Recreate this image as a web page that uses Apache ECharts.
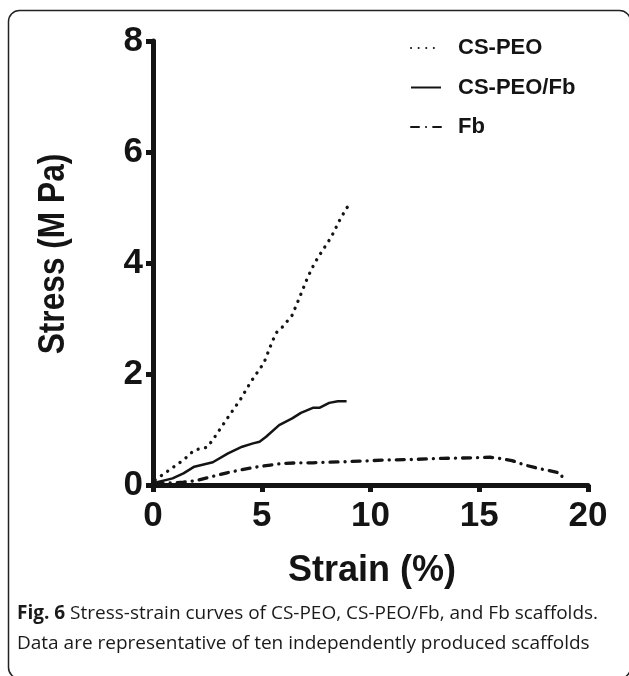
<!DOCTYPE html>
<html>
<head>
<meta charset="utf-8">
<title>Stress-strain curves</title>
<script src="https://cdn.jsdelivr.net/npm/echarts@6/dist/echarts.min.js"></script>
<style>
  html, body { margin: 0; padding: 0; background: #fff; }
  #main { width: 629px; height: 676px; }
</style>
</head>
<body>
<div id="main"></div>
<script type="text/javascript">
// data: strain (%) / stress (MPa)
var seriesNames = ['CS-PEO', 'CS-PEO/Fb', 'Fb'];
var xTicks = [0, 5, 10, 15, 20];
var yTicks = [0, 2, 4, 6, 8];

var csPeoStrain = [0.1, 1.4, 1.9, 2.5, 2.9, 3.45, 4.0, 4.5, 5.1, 5.5, 5.7, 5.96, 6.4, 6.75, 7.1, 7.43, 7.8, 8.2, 8.58, 8.9, 9.1];
var csPeoStress = [0.09, 0.45, 0.63, 0.68, 0.9, 1.22, 1.53, 1.86, 2.2, 2.6, 2.76, 2.85, 3.06, 3.39, 3.73, 4.0, 4.23, 4.47, 4.77, 4.99, 5.08];

var csPeoFbStrain = [0, 0.9, 1.4, 1.9, 2.75, 3.45, 4.1, 4.6, 4.9, 5.2, 5.8, 6.4, 6.8, 7.35, 7.65, 8.1, 8.5, 8.9];
var csPeoFbStress = [0.03, 0.12, 0.21, 0.33, 0.41, 0.57, 0.69, 0.75, 0.78, 0.87, 1.08, 1.2, 1.3, 1.39, 1.39, 1.48, 1.51, 1.51];

var fbStrain = [0.1, 1.4, 2.0, 2.7, 3.4, 4.0, 4.7, 5.4, 6.0, 6.75, 7.35, 8.0, 8.9, 9.5, 10.1, 10.7, 11.9, 13.3, 14.7, 15.5, 15.9, 16.5, 17.1, 17.7, 18.2, 18.75, 18.9];
var fbStress = [0.02, 0.05, 0.08, 0.15, 0.22, 0.27, 0.32, 0.36, 0.39, 0.4, 0.4, 0.41, 0.42, 0.43, 0.44, 0.45, 0.46, 0.48, 0.49, 0.5, 0.48, 0.44, 0.36, 0.3, 0.26, 0.21, 0.05];

function pairs(xs, ys) {
  var out = [];
  for (var i = 0; i < xs.length; i++) out.push([xs[i], ys[i]]);
  return out;
}

var ink = '#141414';
var boldFont = '"Liberation Sans", Arial, sans-serif';

var myChart = echarts.init(document.getElementById('main'));

var option = {
  backgroundColor: '#fff',
  animation: false,
  grid: { left: 153, right: 41, top: 41, bottom: 191 },
  legend: {
    orient: 'vertical',
    left: 405,
    top: 32,
    itemWidth: 30,
    itemHeight: 14,
    itemGap: 17.5,
    data: seriesNames,
    itemStyle: { opacity: 0 },
    textStyle: {
      color: ink, fontSize: 22, fontWeight: 'bold', fontFamily: boldFont,
      padding: [0, 0, 0, 12]
    }
  },
  xAxis: {
    type: 'value',
    min: xTicks[0], max: xTicks[xTicks.length - 1], interval: 5,
    axisLine: { lineStyle: { color: ink, width: 5 } },
    axisTick: { show: true, length: 7, lineStyle: { color: ink, width: 5 } },
    splitLine: { show: false },
    axisLabel: { color: ink, fontSize: 35, fontWeight: 'bold', fontFamily: boldFont, margin: 14 }
  },
  yAxis: {
    type: 'value',
    min: yTicks[0], max: yTicks[yTicks.length - 1], interval: 2,
    axisLine: { show: true, lineStyle: { color: ink, width: 5 } },
    axisTick: { show: true, length: 7, lineStyle: { color: ink, width: 5 } },
    splitLine: { show: false },
    axisLabel: { color: ink, fontSize: 35, fontWeight: 'bold', fontFamily: boldFont, margin: 10 }
  },
  series: [
    {
      name: seriesNames[0], type: 'line', symbol: 'none',
      data: pairs(csPeoStrain, csPeoStress),
      lineStyle: { color: ink, width: 3.3, type: [0.1, 7.5], cap: 'round' },
      itemStyle: { color: ink }
    },
    {
      name: seriesNames[1], type: 'line', symbol: 'none',
      data: pairs(csPeoFbStrain, csPeoFbStress),
      lineStyle: { color: ink, width: 2.5, type: 'solid' },
      itemStyle: { color: ink }
    },
    {
      name: seriesNames[2], type: 'line', symbol: 'none',
      data: pairs(fbStrain, fbStress),
      lineStyle: { color: ink, width: 3.3, type: [8, 7, 0.1, 7], cap: 'round' },
      itemStyle: { color: ink }
    }
  ],
  graphic: [
    {
      type: 'rect', silent: true,
      shape: { x: 8.5, y: 10.5, width: 622, height: 668, r: 11 },
      style: { fill: null, stroke: '#222', lineWidth: 1.5 }
    },
    {
      type: 'text', silent: true,
      x: 372, y: 553,
      style: { text: 'Strain (%)', fill: ink, align: 'center', font: 'bold 36px "Liberation Sans", Arial, sans-serif' }
    },
    {
      type: 'text', silent: true,
      x: 36, y: 254, rotation: Math.PI / 2, scaleX: 0.88,
      style: { text: 'Stress (M Pa)', fill: ink, align: 'center', font: 'bold 36px "Liberation Sans", Arial, sans-serif' }
    },
    {
      type: 'text', silent: true,
      x: 17, y: 599,
      style: {
        text: '{b|Fig. 6} Stress-strain curves of CS-PEO, CS-PEO/Fb, and Fb scaffolds.\nData are representative of ten independently produced scaffolds',
        fill: '#1a1a1a',
        font: '19px "Open Sans", sans-serif',
        lineHeight: 30,
        rich: { b: { fontWeight: 'bold', fontSize: 19, fontFamily: '"Open Sans", sans-serif', fill: '#1a1a1a' } }
      }
    }
  ]
};

myChart.setOption(option);
</script>
</body>
</html>
